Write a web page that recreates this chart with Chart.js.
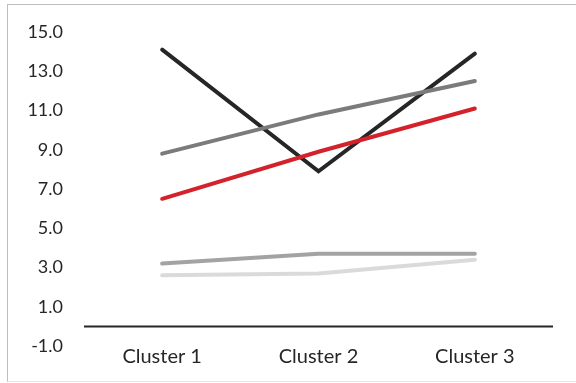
<!DOCTYPE html>
<html>
<head>
<meta charset="utf-8">
<script src="https://cdn.jsdelivr.net/npm/chart.js@4/dist/chart.umd.min.js"></script>
<style>
  html, body { margin: 0; padding: 0; background: #ffffff; }
  body { width: 576px; height: 383px; position: relative; overflow: hidden; }
  #frame {
    position: absolute; left: 7px; top: 4px; width: 620px; height: 378px;
    border: 1px solid #bdbdbd; border-bottom-color: #e6e6e6; box-sizing: border-box;
  }
  #wrap { position: absolute; left: 0; top: 0; width: 576px; height: 383px; }
</style>
</head>
<body>
<div id="frame"></div>
<div id="wrap"><canvas id="chart" width="576" height="383"></canvas></div>
<script>
// Categories and series values
const categories = ['Cluster 1', 'Cluster 2', 'Cluster 3'];
const seriesRed       = [6.5, 8.9, 11.1];
const seriesDarkGray  = [8.8, 10.8, 12.5];
const seriesMidGray   = [3.2, 3.7, 3.7];
const seriesLightGray = [2.6, 2.7, 3.4];
const seriesBlack     = [14.1, 7.9, 13.9];
const yTicks = { min: -1, max: 15, step: 2 };

const FONT = 'Lato, "Open Sans", "DejaVu Sans", sans-serif';

// Horizontal axis line drawn at value zero
const zeroLine = {
  id: 'zeroLine',
  beforeDatasetsDraw(chart) {
    const { ctx, chartArea, scales } = chart;
    const y = scales.y.getPixelForValue(0);
    ctx.save();
    ctx.strokeStyle = '#262626';
    ctx.lineWidth = 2;
    ctx.beginPath();
    ctx.moveTo(chartArea.left, y);
    ctx.lineTo(chartArea.right, y);
    ctx.stroke();
    ctx.restore();
  }
};

const lineStyle = (color) => ({
  borderColor: color,
  backgroundColor: color,
  borderWidth: 4,
  borderCapStyle: 'round',
  borderJoinStyle: 'miter',
  pointRadius: 0,
  tension: 0,
  fill: false
});

new Chart(document.getElementById('chart'), {
  type: 'line',
  data: {
    labels: categories,
    datasets: [
      { label: 'Series 1', data: seriesRed, ...lineStyle('#d3222a') },
      { label: 'Series 2', data: seriesDarkGray, ...lineStyle('#7b7b7b') },
      { label: 'Series 3', data: seriesMidGray, ...lineStyle('#a3a3a3') },
      { label: 'Series 4', data: seriesLightGray, ...lineStyle('#dadada') },
      { label: 'Series 5', data: seriesBlack, ...lineStyle('#262626') }
    ]
  },
  options: {
    responsive: false,
    animation: false,
    layout: { padding: { top: 32, right: 23, bottom: 0, left: 0 } },
    plugins: { legend: { display: false }, tooltip: { enabled: false } },
    scales: {
      x: {
        offset: true,
        grid: { display: false, drawTicks: false },
        border: { display: false },
        ticks: {
          color: '#262626',
          padding: -1,
          font: { family: FONT, size: 20 }
        },
        afterFit(scale) { scale.height = 37; }
      },
      y: {
        min: yTicks.min,
        max: yTicks.max,
        grid: { display: false, drawTicks: false },
        border: { display: false },
        ticks: {
          stepSize: yTicks.step,
          color: '#262626',
          padding: 21,
          font: { family: FONT, size: 18 },
          callback: (v) => Number(v).toFixed(1)
        },
        afterFit(scale) { scale.width = 84; }
      }
    }
  },
  plugins: [zeroLine]
});
</script>
</body>
</html>
